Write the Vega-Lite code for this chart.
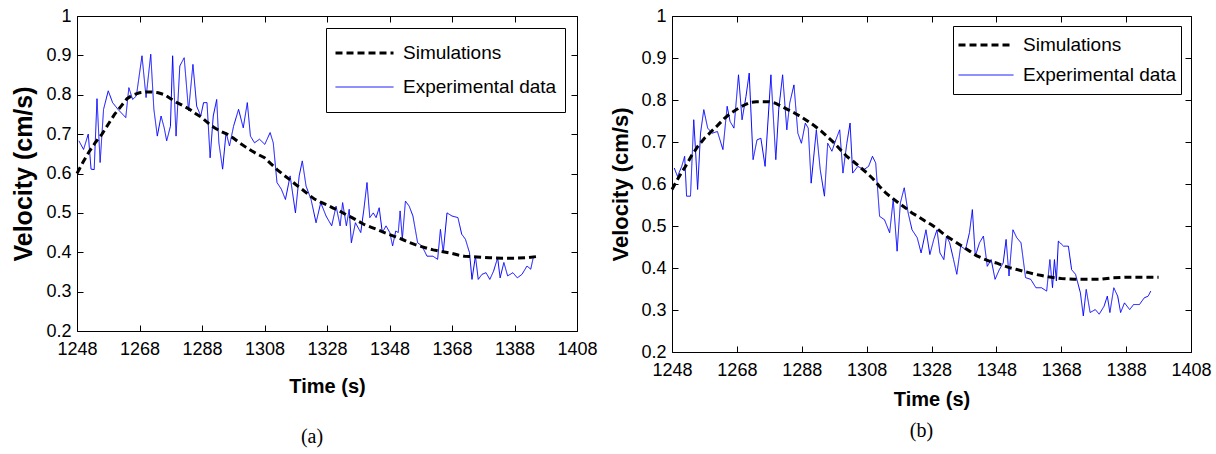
{
  "$schema": "https://vega.github.io/schema/vega-lite/v6.json",
  "background": "white",
  "padding": {"left": 11, "top": 6, "right": 5, "bottom": 5},
  "spacing": 11,
  "datasets": {
    "expA": [
      {"t":1248.6,"v":0.683,"series":"Experimental data"},{"t":1250.1,"v":0.661,"series":"Experimental data"},{"t":1251.6,"v":0.70,"series":"Experimental data"},{"t":1252.5,"v":0.611,"series":"Experimental data"},{"t":1253.5,"v":0.61,"series":"Experimental data"},{"t":1254.4,"v":0.79,"series":"Experimental data"},{"t":1255.4,"v":0.628,"series":"Experimental data"},{"t":1256.5,"v":0.763,"series":"Experimental data"},{"t":1258,"v":0.81,"series":"Experimental data"},{"t":1259.4,"v":0.78,"series":"Experimental data"},{"t":1261.1,"v":0.763,"series":"Experimental data"},{"t":1263.6,"v":0.742,"series":"Experimental data"},{"t":1264.6,"v":0.818,"series":"Experimental data"},{"t":1265.8,"v":0.788,"series":"Experimental data"},{"t":1267,"v":0.797,"series":"Experimental data"},{"t":1268.8,"v":0.899,"series":"Experimental data"},{"t":1270.1,"v":0.793,"series":"Experimental data"},{"t":1271.6,"v":0.903,"series":"Experimental data"},{"t":1272.6,"v":0.763,"series":"Experimental data"},{"t":1273.7,"v":0.695,"series":"Experimental data"},{"t":1274.9,"v":0.746,"series":"Experimental data"},{"t":1275.9,"v":0.716,"series":"Experimental data"},{"t":1276.7,"v":0.683,"series":"Experimental data"},{"t":1277.9,"v":0.72,"series":"Experimental data"},{"t":1278.6,"v":0.899,"series":"Experimental data"},{"t":1279.7,"v":0.695,"series":"Experimental data"},{"t":1280.9,"v":0.873,"series":"Experimental data"},{"t":1282.3,"v":0.894,"series":"Experimental data"},{"t":1283.7,"v":0.759,"series":"Experimental data"},{"t":1285.1,"v":0.877,"series":"Experimental data"},{"t":1286.3,"v":0.771,"series":"Experimental data"},{"t":1287.6,"v":0.746,"series":"Experimental data"},{"t":1288.5,"v":0.78,"series":"Experimental data"},{"t":1289.6,"v":0.78,"series":"Experimental data"},{"t":1290.6,"v":0.64,"series":"Experimental data"},{"t":1291.6,"v":0.746,"series":"Experimental data"},{"t":1292.7,"v":0.788,"series":"Experimental data"},{"t":1293.4,"v":0.678,"series":"Experimental data"},{"t":1294.6,"v":0.611,"series":"Experimental data"},{"t":1295.7,"v":0.704,"series":"Experimental data"},{"t":1296.8,"v":0.67,"series":"Experimental data"},{"t":1298.1,"v":0.72,"series":"Experimental data"},{"t":1299.7,"v":0.763,"series":"Experimental data"},{"t":1301.2,"v":0.716,"series":"Experimental data"},{"t":1302.5,"v":0.78,"series":"Experimental data"},{"t":1303.5,"v":0.695,"series":"Experimental data"},{"t":1304.8,"v":0.678,"series":"Experimental data"},{"t":1306.4,"v":0.687,"series":"Experimental data"},{"t":1308.1,"v":0.674,"series":"Experimental data"},{"t":1309.8,"v":0.704,"series":"Experimental data"},{"t":1310.8,"v":0.678,"series":"Experimental data"},{"t":1312,"v":0.577,"series":"Experimental data"},{"t":1313.4,"v":0.56,"series":"Experimental data"},{"t":1314.7,"v":0.534,"series":"Experimental data"},{"t":1316.2,"v":0.594,"series":"Experimental data"},{"t":1317.9,"v":0.50,"series":"Experimental data"},{"t":1319.1,"v":0.594,"series":"Experimental data"},{"t":1320.1,"v":0.632,"series":"Experimental data"},{"t":1321.3,"v":0.568,"series":"Experimental data"},{"t":1322.9,"v":0.534,"series":"Experimental data"},{"t":1324.5,"v":0.475,"series":"Experimental data"},{"t":1326,"v":0.526,"series":"Experimental data"},{"t":1327.7,"v":0.492,"series":"Experimental data"},{"t":1329.5,"v":0.467,"series":"Experimental data"},{"t":1330.9,"v":0.517,"series":"Experimental data"},{"t":1332.2,"v":0.467,"series":"Experimental data"},{"t":1333,"v":0.526,"series":"Experimental data"},{"t":1334.2,"v":0.467,"series":"Experimental data"},{"t":1335.1,"v":0.509,"series":"Experimental data"},{"t":1335.8,"v":0.424,"series":"Experimental data"},{"t":1337.1,"v":0.475,"series":"Experimental data"},{"t":1338.8,"v":0.45,"series":"Experimental data"},{"t":1339.8,"v":0.509,"series":"Experimental data"},{"t":1340.8,"v":0.577,"series":"Experimental data"},{"t":1341.7,"v":0.488,"series":"Experimental data"},{"t":1342.8,"v":0.50,"series":"Experimental data"},{"t":1343.7,"v":0.488,"series":"Experimental data"},{"t":1344.7,"v":0.513,"series":"Experimental data"},{"t":1345.7,"v":0.45,"series":"Experimental data"},{"t":1346.9,"v":0.467,"series":"Experimental data"},{"t":1348.1,"v":0.45,"series":"Experimental data"},{"t":1349,"v":0.416,"series":"Experimental data"},{"t":1350,"v":0.454,"series":"Experimental data"},{"t":1350.8,"v":0.45,"series":"Experimental data"},{"t":1351.4,"v":0.505,"series":"Experimental data"},{"t":1352.1,"v":0.433,"series":"Experimental data"},{"t":1353.1,"v":0.53,"series":"Experimental data"},{"t":1354.3,"v":0.517,"series":"Experimental data"},{"t":1355.5,"v":0.492,"series":"Experimental data"},{"t":1357,"v":0.424,"series":"Experimental data"},{"t":1358.4,"v":0.416,"series":"Experimental data"},{"t":1360,"v":0.39,"series":"Experimental data"},{"t":1361.9,"v":0.39,"series":"Experimental data"},{"t":1363.4,"v":0.382,"series":"Experimental data"},{"t":1364.3,"v":0.458,"series":"Experimental data"},{"t":1365.2,"v":0.399,"series":"Experimental data"},{"t":1366.4,"v":0.50,"series":"Experimental data"},{"t":1368,"v":0.492,"series":"Experimental data"},{"t":1369.9,"v":0.488,"series":"Experimental data"},{"t":1371.1,"v":0.446,"series":"Experimental data"},{"t":1372.3,"v":0.433,"series":"Experimental data"},{"t":1373.6,"v":0.399,"series":"Experimental data"},{"t":1374.4,"v":0.331,"series":"Experimental data"},{"t":1375.5,"v":0.39,"series":"Experimental data"},{"t":1376.4,"v":0.331,"series":"Experimental data"},{"t":1377.6,"v":0.344,"series":"Experimental data"},{"t":1378.9,"v":0.348,"series":"Experimental data"},{"t":1380.1,"v":0.331,"series":"Experimental data"},{"t":1381.3,"v":0.352,"series":"Experimental data"},{"t":1382.6,"v":0.386,"series":"Experimental data"},{"t":1383.4,"v":0.335,"series":"Experimental data"},{"t":1384.6,"v":0.374,"series":"Experimental data"},{"t":1385.8,"v":0.34,"series":"Experimental data"},{"t":1387.5,"v":0.348,"series":"Experimental data"},{"t":1388.9,"v":0.335,"series":"Experimental data"},{"t":1390.4,"v":0.344,"series":"Experimental data"},{"t":1392,"v":0.365,"series":"Experimental data"},{"t":1393.2,"v":0.357,"series":"Experimental data"},{"t":1394.1,"v":0.39,"series":"Experimental data"}
    ],
    "simA": [
      {"t":1248,"v":0.60,"series":"Simulations"},{"t":1250,"v":0.63,"series":"Simulations"},{"t":1252,"v":0.657,"series":"Simulations"},{"t":1254,"v":0.68,"series":"Simulations"},{"t":1256,"v":0.70,"series":"Simulations"},{"t":1258,"v":0.725,"series":"Simulations"},{"t":1260,"v":0.75,"series":"Simulations"},{"t":1262,"v":0.77,"series":"Simulations"},{"t":1264,"v":0.79,"series":"Simulations"},{"t":1266,"v":0.80,"series":"Simulations"},{"t":1268,"v":0.805,"series":"Simulations"},{"t":1270,"v":0.807,"series":"Simulations"},{"t":1272,"v":0.807,"series":"Simulations"},{"t":1274,"v":0.805,"series":"Simulations"},{"t":1276,"v":0.80,"series":"Simulations"},{"t":1278,"v":0.79,"series":"Simulations"},{"t":1280,"v":0.78,"series":"Simulations"},{"t":1282,"v":0.772,"series":"Simulations"},{"t":1284,"v":0.763,"series":"Simulations"},{"t":1286,"v":0.752,"series":"Simulations"},{"t":1288,"v":0.742,"series":"Simulations"},{"t":1290,"v":0.728,"series":"Simulations"},{"t":1292,"v":0.716,"series":"Simulations"},{"t":1294,"v":0.707,"series":"Simulations"},{"t":1296,"v":0.70,"series":"Simulations"},{"t":1298,"v":0.69,"series":"Simulations"},{"t":1300,"v":0.678,"series":"Simulations"},{"t":1302,"v":0.667,"series":"Simulations"},{"t":1304,"v":0.657,"series":"Simulations"},{"t":1306,"v":0.648,"series":"Simulations"},{"t":1308,"v":0.64,"series":"Simulations"},{"t":1310,"v":0.625,"series":"Simulations"},{"t":1312,"v":0.61,"series":"Simulations"},{"t":1314,"v":0.597,"series":"Simulations"},{"t":1316,"v":0.585,"series":"Simulations"},{"t":1318,"v":0.572,"series":"Simulations"},{"t":1320,"v":0.56,"series":"Simulations"},{"t":1322,"v":0.547,"series":"Simulations"},{"t":1324,"v":0.535,"series":"Simulations"},{"t":1326,"v":0.527,"series":"Simulations"},{"t":1328,"v":0.52,"series":"Simulations"},{"t":1330,"v":0.512,"series":"Simulations"},{"t":1332,"v":0.505,"series":"Simulations"},{"t":1334,"v":0.496,"series":"Simulations"},{"t":1336,"v":0.488,"series":"Simulations"},{"t":1338,"v":0.479,"series":"Simulations"},{"t":1340,"v":0.47,"series":"Simulations"},{"t":1342,"v":0.464,"series":"Simulations"},{"t":1344,"v":0.458,"series":"Simulations"},{"t":1346,"v":0.451,"series":"Simulations"},{"t":1348,"v":0.445,"series":"Simulations"},{"t":1350,"v":0.439,"series":"Simulations"},{"t":1352,"v":0.433,"series":"Simulations"},{"t":1354,"v":0.426,"series":"Simulations"},{"t":1356,"v":0.42,"series":"Simulations"},{"t":1358,"v":0.415,"series":"Simulations"},{"t":1360,"v":0.41,"series":"Simulations"},{"t":1362,"v":0.406,"series":"Simulations"},{"t":1364,"v":0.403,"series":"Simulations"},{"t":1366,"v":0.40,"series":"Simulations"},{"t":1368,"v":0.397,"series":"Simulations"},{"t":1370,"v":0.393,"series":"Simulations"},{"t":1372,"v":0.39,"series":"Simulations"},{"t":1374,"v":0.389,"series":"Simulations"},{"t":1376,"v":0.388,"series":"Simulations"},{"t":1378,"v":0.387,"series":"Simulations"},{"t":1380,"v":0.386,"series":"Simulations"},{"t":1384,"v":0.385,"series":"Simulations"},{"t":1388,"v":0.385,"series":"Simulations"},{"t":1392,"v":0.386,"series":"Simulations"},{"t":1396,"v":0.39,"series":"Simulations"}
    ],
    "expB": [
      {"t":1248.7,"v":0.638,"series":"Experimental data"},{"t":1249.7,"v":0.618,"series":"Experimental data"},{"t":1251,"v":0.642,"series":"Experimental data"},{"t":1251.9,"v":0.666,"series":"Experimental data"},{"t":1252.5,"v":0.571,"series":"Experimental data"},{"t":1253.7,"v":0.571,"series":"Experimental data"},{"t":1254.7,"v":0.753,"series":"Experimental data"},{"t":1255.3,"v":0.674,"series":"Experimental data"},{"t":1255.9,"v":0.587,"series":"Experimental data"},{"t":1256.8,"v":0.721,"series":"Experimental data"},{"t":1257.8,"v":0.777,"series":"Experimental data"},{"t":1259,"v":0.733,"series":"Experimental data"},{"t":1260.4,"v":0.721,"series":"Experimental data"},{"t":1262,"v":0.725,"series":"Experimental data"},{"t":1263.7,"v":0.682,"series":"Experimental data"},{"t":1265,"v":0.785,"series":"Experimental data"},{"t":1265.9,"v":0.749,"series":"Experimental data"},{"t":1267.1,"v":0.733,"series":"Experimental data"},{"t":1268.5,"v":0.86,"series":"Experimental data"},{"t":1269.6,"v":0.753,"series":"Experimental data"},{"t":1270.8,"v":0.808,"series":"Experimental data"},{"t":1271.8,"v":0.864,"series":"Experimental data"},{"t":1273,"v":0.658,"series":"Experimental data"},{"t":1274.2,"v":0.705,"series":"Experimental data"},{"t":1275.4,"v":0.709,"series":"Experimental data"},{"t":1276.7,"v":0.642,"series":"Experimental data"},{"t":1278.5,"v":0.86,"series":"Experimental data"},{"t":1280,"v":0.658,"series":"Experimental data"},{"t":1280.9,"v":0.777,"series":"Experimental data"},{"t":1282.1,"v":0.86,"series":"Experimental data"},{"t":1283.4,"v":0.729,"series":"Experimental data"},{"t":1284.3,"v":0.793,"series":"Experimental data"},{"t":1285.6,"v":0.836,"series":"Experimental data"},{"t":1286.8,"v":0.721,"series":"Experimental data"},{"t":1287.9,"v":0.697,"series":"Experimental data"},{"t":1289.1,"v":0.745,"series":"Experimental data"},{"t":1290,"v":0.733,"series":"Experimental data"},{"t":1290.9,"v":0.602,"series":"Experimental data"},{"t":1292.5,"v":0.729,"series":"Experimental data"},{"t":1293.7,"v":0.634,"series":"Experimental data"},{"t":1295,"v":0.571,"series":"Experimental data"},{"t":1296,"v":0.697,"series":"Experimental data"},{"t":1297.3,"v":0.678,"series":"Experimental data"},{"t":1298.5,"v":0.705,"series":"Experimental data"},{"t":1299.7,"v":0.729,"series":"Experimental data"},{"t":1300.7,"v":0.626,"series":"Experimental data"},{"t":1301.9,"v":0.697,"series":"Experimental data"},{"t":1302.9,"v":0.745,"series":"Experimental data"},{"t":1303.7,"v":0.626,"series":"Experimental data"},{"t":1305.3,"v":0.642,"series":"Experimental data"},{"t":1307.1,"v":0.634,"series":"Experimental data"},{"t":1308.6,"v":0.642,"series":"Experimental data"},{"t":1309.8,"v":0.666,"series":"Experimental data"},{"t":1310.8,"v":0.65,"series":"Experimental data"},{"t":1312,"v":0.523,"series":"Experimental data"},{"t":1313.5,"v":0.515,"series":"Experimental data"},{"t":1315.1,"v":0.484,"series":"Experimental data"},{"t":1316.2,"v":0.563,"series":"Experimental data"},{"t":1317.4,"v":0.44,"series":"Experimental data"},{"t":1318.4,"v":0.555,"series":"Experimental data"},{"t":1319.6,"v":0.591,"series":"Experimental data"},{"t":1320.8,"v":0.531,"series":"Experimental data"},{"t":1322,"v":0.491,"series":"Experimental data"},{"t":1323.6,"v":0.472,"series":"Experimental data"},{"t":1324.8,"v":0.436,"series":"Experimental data"},{"t":1326.3,"v":0.491,"series":"Experimental data"},{"t":1327.5,"v":0.432,"series":"Experimental data"},{"t":1328.7,"v":0.468,"series":"Experimental data"},{"t":1329.7,"v":0.491,"series":"Experimental data"},{"t":1330.6,"v":0.436,"series":"Experimental data"},{"t":1331.8,"v":0.42,"series":"Experimental data"},{"t":1332.6,"v":0.476,"series":"Experimental data"},{"t":1333.6,"v":0.46,"series":"Experimental data"},{"t":1334.8,"v":0.42,"series":"Experimental data"},{"t":1335.8,"v":0.385,"series":"Experimental data"},{"t":1337,"v":0.452,"series":"Experimental data"},{"t":1338.5,"v":0.444,"series":"Experimental data"},{"t":1339.7,"v":0.484,"series":"Experimental data"},{"t":1340.6,"v":0.539,"series":"Experimental data"},{"t":1341.5,"v":0.428,"series":"Experimental data"},{"t":1342.8,"v":0.46,"series":"Experimental data"},{"t":1344,"v":0.476,"series":"Experimental data"},{"t":1345.2,"v":0.404,"series":"Experimental data"},{"t":1346.4,"v":0.42,"series":"Experimental data"},{"t":1347.6,"v":0.373,"series":"Experimental data"},{"t":1348.9,"v":0.396,"series":"Experimental data"},{"t":1350.1,"v":0.412,"series":"Experimental data"},{"t":1351,"v":0.468,"series":"Experimental data"},{"t":1351.9,"v":0.381,"series":"Experimental data"},{"t":1353.1,"v":0.491,"series":"Experimental data"},{"t":1354.3,"v":0.472,"series":"Experimental data"},{"t":1355.6,"v":0.46,"series":"Experimental data"},{"t":1357,"v":0.377,"series":"Experimental data"},{"t":1358.6,"v":0.373,"series":"Experimental data"},{"t":1360.2,"v":0.353,"series":"Experimental data"},{"t":1361.9,"v":0.353,"series":"Experimental data"},{"t":1363.5,"v":0.345,"series":"Experimental data"},{"t":1364.5,"v":0.42,"series":"Experimental data"},{"t":1365.3,"v":0.353,"series":"Experimental data"},{"t":1365.9,"v":0.42,"series":"Experimental data"},{"t":1366.5,"v":0.369,"series":"Experimental data"},{"t":1367.1,"v":0.464,"series":"Experimental data"},{"t":1368.7,"v":0.452,"series":"Experimental data"},{"t":1370.2,"v":0.452,"series":"Experimental data"},{"t":1371.2,"v":0.396,"series":"Experimental data"},{"t":1372.4,"v":0.385,"series":"Experimental data"},{"t":1373.9,"v":0.341,"series":"Experimental data"},{"t":1374.8,"v":0.286,"series":"Experimental data"},{"t":1375.7,"v":0.349,"series":"Experimental data"},{"t":1376.9,"v":0.294,"series":"Experimental data"},{"t":1378.5,"v":0.301,"series":"Experimental data"},{"t":1379.7,"v":0.29,"series":"Experimental data"},{"t":1381.2,"v":0.309,"series":"Experimental data"},{"t":1382.2,"v":0.333,"series":"Experimental data"},{"t":1383,"v":0.294,"series":"Experimental data"},{"t":1384.2,"v":0.353,"series":"Experimental data"},{"t":1385.4,"v":0.333,"series":"Experimental data"},{"t":1386.3,"v":0.294,"series":"Experimental data"},{"t":1387.5,"v":0.317,"series":"Experimental data"},{"t":1389.1,"v":0.301,"series":"Experimental data"},{"t":1390.3,"v":0.313,"series":"Experimental data"},{"t":1392.1,"v":0.313,"series":"Experimental data"},{"t":1393.6,"v":0.329,"series":"Experimental data"},{"t":1394.8,"v":0.333,"series":"Experimental data"},{"t":1395.6,"v":0.345,"series":"Experimental data"}
    ],
    "simB": [
      {"t":1248,"v":0.587,"series":"Simulations"},{"t":1250,"v":0.615,"series":"Simulations"},{"t":1252,"v":0.64,"series":"Simulations"},{"t":1254,"v":0.667,"series":"Simulations"},{"t":1256,"v":0.69,"series":"Simulations"},{"t":1258,"v":0.709,"series":"Simulations"},{"t":1260,"v":0.724,"series":"Simulations"},{"t":1262,"v":0.739,"series":"Simulations"},{"t":1264,"v":0.755,"series":"Simulations"},{"t":1266,"v":0.768,"series":"Simulations"},{"t":1268,"v":0.778,"series":"Simulations"},{"t":1270,"v":0.787,"series":"Simulations"},{"t":1272,"v":0.794,"series":"Simulations"},{"t":1274,"v":0.796,"series":"Simulations"},{"t":1276,"v":0.796,"series":"Simulations"},{"t":1278,"v":0.796,"series":"Simulations"},{"t":1280,"v":0.792,"series":"Simulations"},{"t":1282,"v":0.784,"series":"Simulations"},{"t":1284,"v":0.776,"series":"Simulations"},{"t":1286,"v":0.768,"series":"Simulations"},{"t":1288,"v":0.759,"series":"Simulations"},{"t":1290,"v":0.749,"series":"Simulations"},{"t":1292,"v":0.738,"series":"Simulations"},{"t":1294,"v":0.726,"series":"Simulations"},{"t":1296,"v":0.712,"series":"Simulations"},{"t":1298,"v":0.698,"series":"Simulations"},{"t":1300,"v":0.681,"series":"Simulations"},{"t":1302,"v":0.665,"series":"Simulations"},{"t":1304,"v":0.653,"series":"Simulations"},{"t":1306,"v":0.64,"series":"Simulations"},{"t":1308,"v":0.627,"series":"Simulations"},{"t":1310,"v":0.612,"series":"Simulations"},{"t":1312,"v":0.594,"series":"Simulations"},{"t":1314,"v":0.578,"series":"Simulations"},{"t":1316,"v":0.566,"series":"Simulations"},{"t":1318,"v":0.554,"series":"Simulations"},{"t":1320,"v":0.543,"series":"Simulations"},{"t":1322,"v":0.531,"series":"Simulations"},{"t":1324,"v":0.522,"series":"Simulations"},{"t":1326,"v":0.512,"series":"Simulations"},{"t":1328,"v":0.503,"series":"Simulations"},{"t":1330,"v":0.492,"series":"Simulations"},{"t":1332,"v":0.479,"series":"Simulations"},{"t":1334,"v":0.469,"series":"Simulations"},{"t":1336,"v":0.459,"series":"Simulations"},{"t":1338,"v":0.449,"series":"Simulations"},{"t":1340,"v":0.439,"series":"Simulations"},{"t":1342,"v":0.429,"series":"Simulations"},{"t":1344,"v":0.422,"series":"Simulations"},{"t":1346,"v":0.416,"series":"Simulations"},{"t":1348,"v":0.412,"series":"Simulations"},{"t":1350,"v":0.406,"series":"Simulations"},{"t":1352,"v":0.401,"series":"Simulations"},{"t":1354,"v":0.397,"series":"Simulations"},{"t":1356,"v":0.393,"series":"Simulations"},{"t":1358,"v":0.389,"series":"Simulations"},{"t":1360,"v":0.385,"series":"Simulations"},{"t":1362,"v":0.382,"series":"Simulations"},{"t":1364,"v":0.379,"series":"Simulations"},{"t":1366,"v":0.377,"series":"Simulations"},{"t":1368,"v":0.375,"series":"Simulations"},{"t":1370,"v":0.374,"series":"Simulations"},{"t":1372,"v":0.373,"series":"Simulations"},{"t":1376,"v":0.373,"series":"Simulations"},{"t":1380,"v":0.373,"series":"Simulations"},{"t":1384,"v":0.377,"series":"Simulations"},{"t":1388,"v":0.378,"series":"Simulations"},{"t":1392,"v":0.378,"series":"Simulations"},{"t":1398,"v":0.378,"series":"Simulations"}
    ]
  },
  "config": {
    "view": {"stroke": "black", "strokeWidth": 1},
    "axis": {"grid": false, "domain": false, "tickColor": "black", "tickSize": -6, "tickWidth": 1, "labelFont": "Liberation Sans", "labelFontSize": 18, "labelColor": "black", "labelFlush": false, "labelOverlap": false, "labelPadding": 12, "titleFont": "Liberation Sans", "titleFontSize": 20, "titleFontWeight": "bold", "titleColor": "black"},
    "axisBottom": {"labelPadding": 15},
    "axisTop": {"labelPadding": 15}
  },
  "resolve": {"scale": {"color": "independent", "strokeDash": "independent", "strokeWidth": "independent", "x": "independent", "y": "independent"}, "legend": {"color": "independent", "strokeDash": "independent", "strokeWidth": "independent"}},
  "hconcat": [
    {
      "width": 500, "height": 315,
      "title": {"text": "(a)", "orient": "bottom", "font": "Liberation Serif", "fontSize": 20, "fontWeight": "normal", "color": "black", "offset": 31, "dx": -15},
      "layer": [
        {
          "data": {"name": "expA"},
          "mark": {"type": "line"},
          "encoding": {
            "x": {"field": "t", "type": "quantitative", "scale": {"domain": [1248, 1408], "nice": false, "zero": false}, "axis": {"values": [1248,1268,1288,1308,1328,1348,1368,1388,1408], "format": "d", "title": "Time (s)", "titlePadding": 18}},
            "y": {"field": "v", "type": "quantitative", "scale": {"domain": [0.2, 1], "nice": false, "zero": false}, "axis": {"values": [0.2,0.3,0.4,0.5,0.6,0.7,0.8,0.9,1], "format": "~g", "title": "Velocity (cm/s)", "titleFontSize": 25, "titlePadding": 9}},
            "color": {"field": "series", "type": "nominal", "scale": {"domain": ["Simulations", "Experimental data"], "range": ["#000000", "#0000ff"]}, "legend": {"title": null, "orient": "top-right", "offset": 12, "strokeColor": "black", "fillColor": "white", "padding": 8, "symbolType": "stroke", "symbolSize": 3364, "clipHeight": 34, "rowPadding": 0, "labelFont": "Liberation Sans", "labelFontSize": 19, "labelColor": "black", "labelOffset": 8}},
            "strokeDash": {"field": "series", "type": "nominal", "scale": {"domain": ["Simulations", "Experimental data"], "range": [[7, 4], [1, 0]]}, "legend": {"title": null, "orient": "top-right", "offset": 12, "strokeColor": "black", "fillColor": "white", "padding": 8, "symbolType": "stroke", "symbolSize": 3364, "clipHeight": 34, "rowPadding": 0, "labelFont": "Liberation Sans", "labelFontSize": 19, "labelColor": "black", "labelOffset": 8}},
            "strokeWidth": {"field": "series", "type": "nominal", "scale": {"domain": ["Simulations", "Experimental data"], "range": [3, 1]}, "legend": {"title": null, "orient": "top-right", "offset": 12, "strokeColor": "black", "fillColor": "white", "padding": 8, "symbolType": "stroke", "symbolSize": 3364, "clipHeight": 34, "rowPadding": 0, "labelFont": "Liberation Sans", "labelFontSize": 19, "labelColor": "black", "labelOffset": 8}}
          }
        },
        {
          "data": {"name": "simA"},
          "mark": {"type": "line"},
          "encoding": {
            "x": {"field": "t", "type": "quantitative", "scale": {"domain": [1248, 1408], "nice": false, "zero": false}, "axis": {"orient": "top", "values": [1248,1268,1288,1308,1328,1348,1368,1388,1408], "labels": false, "title": null}},
            "y": {"field": "v", "type": "quantitative", "scale": {"domain": [0.2, 1], "nice": false, "zero": false}, "axis": {"orient": "right", "values": [0.2,0.3,0.4,0.5,0.6,0.7,0.8,0.9,1], "labels": false, "title": null}},
            "color": {"field": "series", "type": "nominal", "scale": {"domain": ["Simulations", "Experimental data"], "range": ["#000000", "#0000ff"]}},
            "strokeDash": {"field": "series", "type": "nominal", "scale": {"domain": ["Simulations", "Experimental data"], "range": [[7, 4], [1, 0]]}},
            "strokeWidth": {"field": "series", "type": "nominal", "scale": {"domain": ["Simulations", "Experimental data"], "range": [3, 1]}}
          }
        }
      ],
      "resolve": {"axis": {"x": "independent", "y": "independent"}}
    },
    {
      "width": 519, "height": 336,
      "title": {"text": "(b)", "orient": "bottom", "font": "Liberation Serif", "fontSize": 20, "fontWeight": "normal", "color": "black", "offset": 12, "dx": -10},
      "layer": [
        {
          "data": {"name": "expB"},
          "mark": {"type": "line"},
          "encoding": {
            "x": {"field": "t", "type": "quantitative", "scale": {"domain": [1248, 1408], "nice": false, "zero": false}, "axis": {"values": [1248,1268,1288,1308,1328,1348,1368,1388,1408], "format": "d", "title": "Time (s)", "titlePadding": 10}},
            "y": {"field": "v", "type": "quantitative", "scale": {"domain": [0.2, 1], "nice": false, "zero": false}, "axis": {"values": [0.2,0.3,0.4,0.5,0.6,0.7,0.8,0.9,1], "format": "~g", "title": "Velocity (cm/s)", "titleFontSize": 22, "titlePadding": 8}},
            "color": {"field": "series", "type": "nominal", "scale": {"domain": ["Simulations", "Experimental data"], "range": ["#000000", "#0000ff"]}, "legend": {"title": null, "orient": "top-right", "offset": 10, "strokeColor": "black", "fillColor": "white", "padding": 4, "symbolType": "stroke", "symbolSize": 3025, "clipHeight": 30, "rowPadding": 0, "labelFont": "Liberation Sans", "labelFontSize": 19, "labelColor": "black", "labelOffset": 8}},
            "strokeDash": {"field": "series", "type": "nominal", "scale": {"domain": ["Simulations", "Experimental data"], "range": [[7, 4], [1, 0]]}, "legend": {"title": null, "orient": "top-right", "offset": 10, "strokeColor": "black", "fillColor": "white", "padding": 4, "symbolType": "stroke", "symbolSize": 3025, "clipHeight": 30, "rowPadding": 0, "labelFont": "Liberation Sans", "labelFontSize": 19, "labelColor": "black", "labelOffset": 8}},
            "strokeWidth": {"field": "series", "type": "nominal", "scale": {"domain": ["Simulations", "Experimental data"], "range": [3, 1]}, "legend": {"title": null, "orient": "top-right", "offset": 10, "strokeColor": "black", "fillColor": "white", "padding": 4, "symbolType": "stroke", "symbolSize": 3025, "clipHeight": 30, "rowPadding": 0, "labelFont": "Liberation Sans", "labelFontSize": 19, "labelColor": "black", "labelOffset": 8}}
          }
        },
        {
          "data": {"name": "simB"},
          "mark": {"type": "line"},
          "encoding": {
            "x": {"field": "t", "type": "quantitative", "scale": {"domain": [1248, 1408], "nice": false, "zero": false}, "axis": {"orient": "top", "values": [1248,1268,1288,1308,1328,1348,1368,1388,1408], "labels": false, "title": null}},
            "y": {"field": "v", "type": "quantitative", "scale": {"domain": [0.2, 1], "nice": false, "zero": false}, "axis": {"orient": "right", "values": [0.2,0.3,0.4,0.5,0.6,0.7,0.8,0.9,1], "labels": false, "title": null}},
            "color": {"field": "series", "type": "nominal", "scale": {"domain": ["Simulations", "Experimental data"], "range": ["#000000", "#0000ff"]}},
            "strokeDash": {"field": "series", "type": "nominal", "scale": {"domain": ["Simulations", "Experimental data"], "range": [[7, 4], [1, 0]]}},
            "strokeWidth": {"field": "series", "type": "nominal", "scale": {"domain": ["Simulations", "Experimental data"], "range": [3, 1]}}
          }
        }
      ],
      "resolve": {"axis": {"x": "independent", "y": "independent"}}
    }
  ]
}
